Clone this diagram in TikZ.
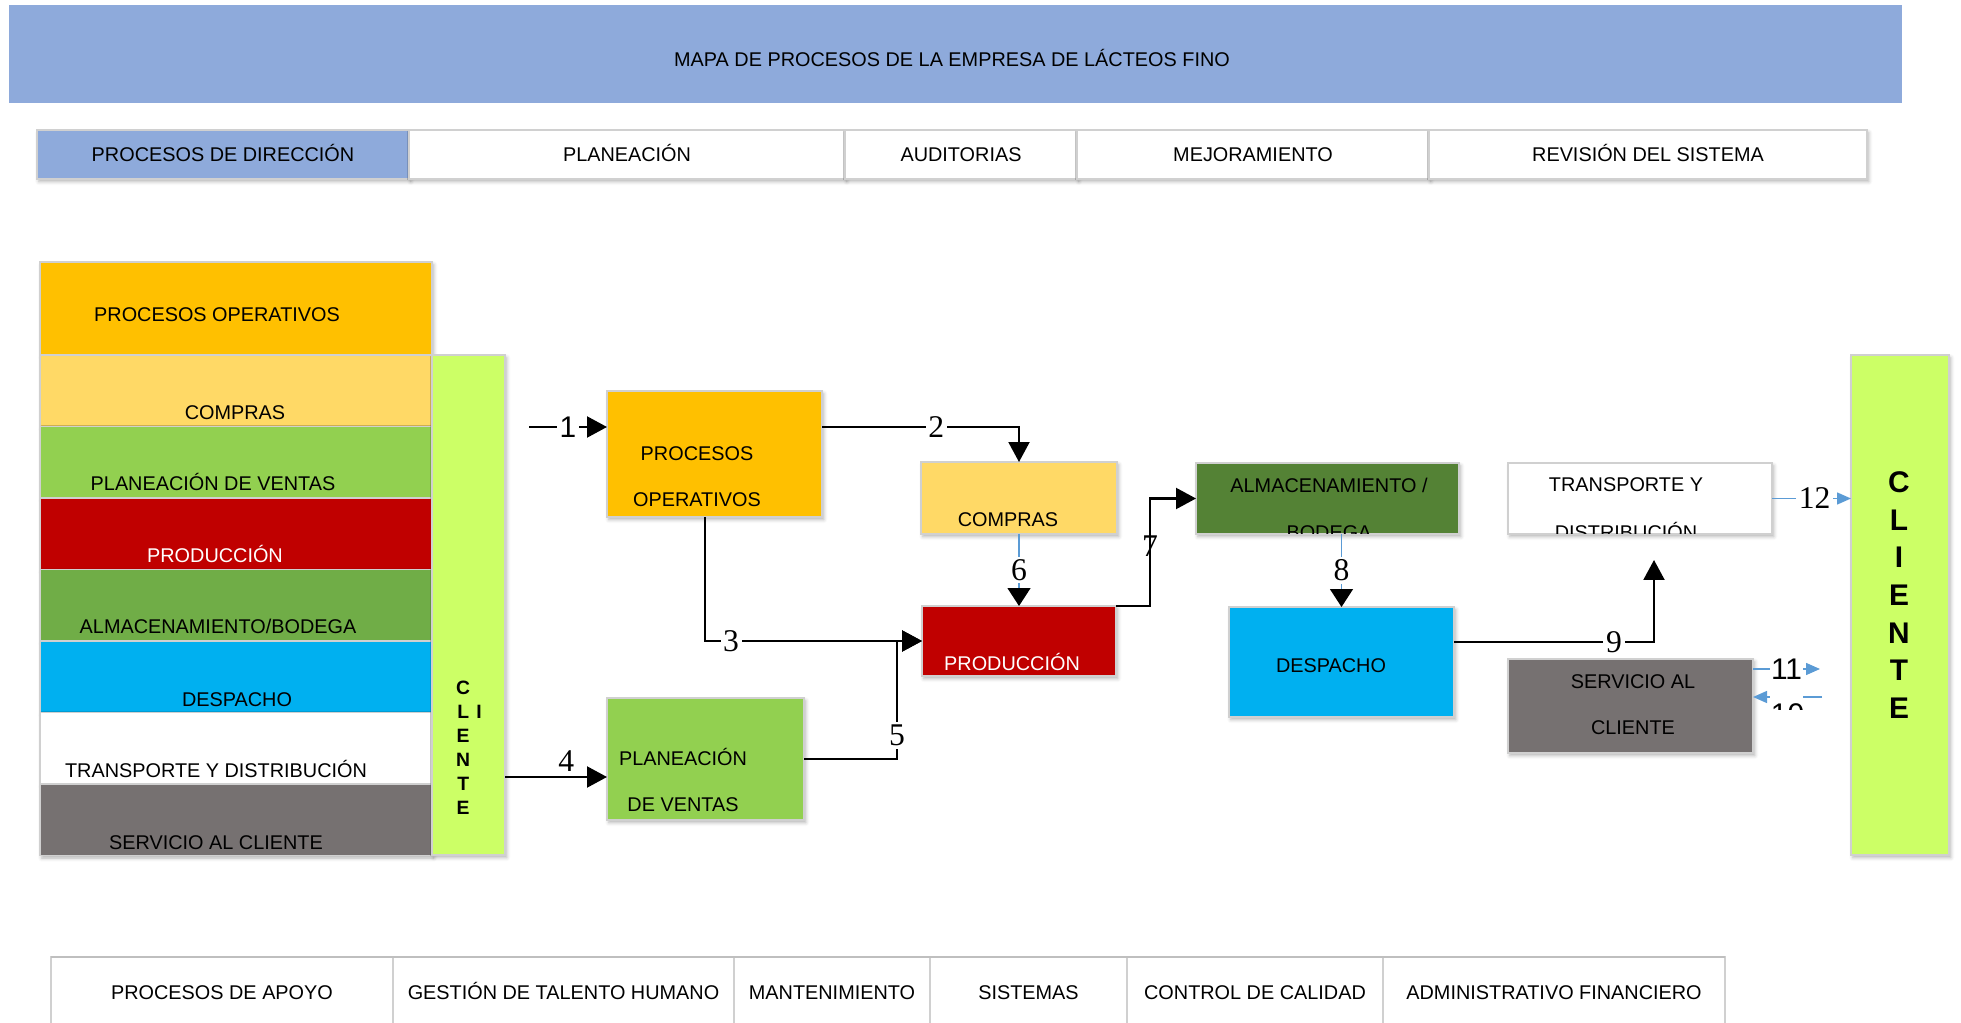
\documentclass[tikz,border=0pt]{standalone}
\usepackage{fontspec}
\setmainfont{Liberation Sans}
\newfontfamily\numfont{Liberation Serif}
\usetikzlibrary{arrows.meta,positioning,shadows.blur}
\definecolor{mapblue}{HTML}{8EAADB}
\definecolor{opgold}{HTML}{FFC000}
\definecolor{buyyellow}{HTML}{FFD966}
\definecolor{salesgreen}{HTML}{92D050}
\definecolor{prodred}{HTML}{C00000}
\definecolor{storegreen}{HTML}{70AD47}
\definecolor{storedark}{HTML}{548235}
\definecolor{dispblue}{HTML}{00B0F0}
\definecolor{servgray}{HTML}{767171}
\definecolor{clientlime}{HTML}{CCFF66}
\definecolor{linkblue}{HTML}{5B9BD5}
\definecolor{edgegray}{HTML}{D0D0D0}

\begin{document}
\begin{tikzpicture}[x=0.02cm, y=-0.02cm, font=\fontsize{11.3}{13.6}\selectfont,
  wh/.style 2 args={minimum width=#1*0.02cm, minimum height=#2*0.02cm},
  cell/.style={draw=edgegray, line width=0.8pt, fill=white, inner sep=0pt, outer sep=0pt, anchor=north west, text height=8pt, text depth=0pt},
  lbl/.style={inner sep=0pt, text height=8pt, text depth=0pt},
  two/.style={inner sep=0pt, align=center, font=\fontsize{11.3}{#1}\selectfont},
  soft/.style={blur shadow={shadow xshift=1pt, shadow yshift=-1.5pt, shadow blur radius=2pt, shadow opacity=30}},
  proc/.style={cell, soft},
  flow/.style={line width=1.2pt, -{Triangle[length=0.4cm, width=0.42cm]}},
  note/.style={draw=linkblue, line width=0.8pt, -{Triangle[length=0.28cm, width=0.24cm]}},
  link/.style={note, -{Triangle[length=0.36cm, width=0.46cm, color=black]}},
  num/.style={font=\numfont\fontsize{18}{18}\selectfont, fill=white, inner sep=1.5pt},
  numsf/.style={num, font=\fontsize{17}{17}\selectfont}]
  \useasboundingbox (0,0) rectangle (1961,1023);

  % title and direction strip
  \node[cell, draw=none, fill=mapblue, wh={1893}{98}] (banner) at (9,5) {};
  \node[lbl] (title) at (952,59) {MAPA DE PROCESOS DE LA EMPRESA DE LÁCTEOS FINO};
  \node[proc, fill=mapblue, wh={372}{49}] (dir0) at (37,130) {PROCESOS DE DIRECCIÓN};
  \node[proc, wh={436}{49}, right=0pt of dir0] (dir1) {PLANEACIÓN};
  \node[proc, wh={232}{49}, right=0pt of dir1] (dir2) {AUDITORIAS};
  \node[proc, wh={352}{49}, right=0pt of dir2] (dir3) {MEJORAMIENTO};
  \node[proc, wh={438}{49}, right=0pt of dir3] (dir4) {REVISIÓN DEL SISTEMA};

  % left column of processes
  \node[proc, fill=opgold, wh={392}{93}] (opRow) at (40,262) {};
  \node[proc, fill=buyyellow, wh={392}{71.5}, below=0pt of opRow] (buyRow) {};
  \node[proc, fill=salesgreen, wh={392}{71.5}, below=0pt of buyRow] (salesRow) {};
  \node[proc, fill=prodred, wh={392}{71.5}, below=0pt of salesRow] (prodRow) {};
  \node[proc, fill=storegreen, wh={392}{71.5}, below=0pt of prodRow] (storeRow) {};
  \node[proc, fill=dispblue, wh={392}{71.5}, below=0pt of storeRow] (dispRow) {};
  \node[proc, fill=white, wh={392}{71.5}, below=0pt of dispRow] (shipRow) {};
  \node[proc, fill=servgray, wh={392}{71.5}, below=0pt of shipRow] (servRow) {};
  \node[lbl] (tOpRow) at (217,314) {PROCESOS OPERATIVOS};
  \node[lbl] (tBuyRow) at (235,412) {COMPRAS};
  \node[lbl] (tSalesRow) at (213,483) {PLANEACIÓN DE VENTAS};
  \node[lbl, text=white] (tProdRow) at (215,555) {PRODUCCIÓN};
  \node[lbl] (tStoreRow) at (218,626) {ALMACENAMIENTO/BODEGA};
  \node[lbl] (tDispRow) at (237,699) {DESPACHO};
  \node[lbl] (tShipRow) at (216,770) {TRANSPORTE Y DISTRIBUCIÓN};
  \node[lbl] (tServRow) at (216,842) {SERVICIO AL CLIENTE};
  \node[proc, fill=clientlime, wh={73}{500}] (cliL) at (432,355) {};
  \node[inner sep=0pt, font=\fontsize{11}{13.6}\selectfont\bfseries] (tCliL) at (469,749.5)
    {\begin{tabular}{@{}c@{\hspace{3.6pt}}c@{}}C&\\L&I\\E&\\N&\\T&\\E&\end{tabular}};

  % process flow
  \node[proc, fill=opgold, wh={215}{126}] (op) at (607,391) {};
  \node[two=26pt] (tOp) at (697,477) {PROCESOS\\OPERATIVOS};
  \node[proc, fill=buyyellow, wh={196}{72}] (buy) at (921,462) {};
  \node[lbl] (tBuy) at (1008,519) {COMPRAS};
  \node[proc, fill=prodred, wh={194}{70}] (prod) at (922,606) {};
  \node[lbl, text=white] (tProd) at (1012,663) {PRODUCCIÓN};
  \node[proc, fill=salesgreen, wh={197}{122}] (sales) at (607,698) {};
  \node[two=26.5pt] (tSales) at (683,780) {PLANEACIÓN\\DE VENTAS};
  \node[proc, fill=storedark, wh={263}{71}] (store) at (1196,463) {};
  \node[proc, fill=white, wh={264}{71}] (ship) at (1508,463) {};
  \begin{scope}
    \clip (store.north west) rectangle (store.south east);
    \node[two=27.2pt] (tStore) at (1329,509) {ALMACENAMIENTO /\\BODEGA};
  \end{scope}
  \begin{scope}
    \clip (ship.north west) rectangle (ship.south east);
    \node[two=27.2pt] (tShip) at (1626,509) {TRANSPORTE Y\\DISTRIBUCIÓN};
  \end{scope}
  \node[proc, fill=dispblue, wh={225}{110}] (disp) at (1229,607) {};
  \node[lbl] (tDisp) at (1331,665) {DESPACHO};
  \node[proc, fill=servgray, wh={245}{94}] (serv) at (1508,659) {};
  \node[two=26pt] (tServ) at (1633,705) {SERVICIO AL\\CLIENTE};
  \node[proc, fill=clientlime, wh={98}{500}] (cliR) at (1851,355) {};
  \node[align=center, inner sep=0pt, font=\fontsize{17}{21.4}\selectfont\bfseries] (tCliR) at (1899,595)
    {C\\L\\I\\E\\N\\T\\E};

  \coordinate (in1) at (529,427);
  \draw[flow] (in1) -- node[numsf]{1} (in1 -| op.west);
  \draw[flow] (op.east |- in1) -| node[num, pos=0.29]{2} (buy.north);
  \draw[flow] ([xshift=-0.19cm]op.south) |- node[num, pos=0.56]{3} (prod.west);
  \draw[flow] (cliL.east |- 0,777) -- node[num, fill=none, above=1pt, pos=0.6]{4} (sales.west |- 0,777);
  \draw[flow] (sales.east) -| node[num, pos=0.6]{5} ([xshift=-0.5cm]prod.west) -- (prod.west);
  \draw[link] (buy.south) -- node[num]{6} (prod.north);
  \draw[flow] (prod.north east) -- ++(34,0) |- node[num, fill=none, pos=0.28]{7} (store.west);
  \draw[link] (disp.north |- store.south) -- node[num]{8} (disp.north);
  \coordinate (up9) at ([xshift=0.28cm, yshift=-0.52cm]ship.south);
  \draw[flow] ([yshift=0.4cm]disp.east) -| node[num, pos=0.4]{9} (up9);
  \draw[note] (ship.east) -- node[num, pos=0.54]{12} (ship.east -| cliR.west);
  \coordinate (tip11) at (1820,669);
  \coordinate (from10) at (1822,697);
  \begin{scope}
    \clip (1700,600) rectangle (1850,709);
    \draw[note] (from10) -- node[below, font=\fontsize{17}{17}\selectfont]{10} (from10 -| serv.east);
  \end{scope}
  \draw[note] (serv.east |- tip11) -- node[numsf, inner xsep=0.5pt, inner ysep=11pt]{11} (tip11);

  % support strip
  \node[cell, wh={342}{70}] (sup0) at (51,957) {PROCESOS DE APOYO};
  \node[cell, wh={341}{70}, right=0pt of sup0] (sup1) {GESTIÓN DE TALENTO HUMANO};
  \node[cell, wh={196}{70}, right=0pt of sup1] (sup2) {MANTENIMIENTO};
  \node[cell, wh={197}{70}, right=0pt of sup2] (sup3) {SISTEMAS};
  \node[cell, wh={256}{70}, right=0pt of sup3] (sup4) {CONTROL DE CALIDAD};
  \node[cell, wh={342}{70}, right=0pt of sup4] (sup5) {ADMINISTRATIVO FINANCIERO};
  \draw[black!25, line width=1.6pt] (sup0.north west) -- (sup5.north east);
\end{tikzpicture}
\end{document}
